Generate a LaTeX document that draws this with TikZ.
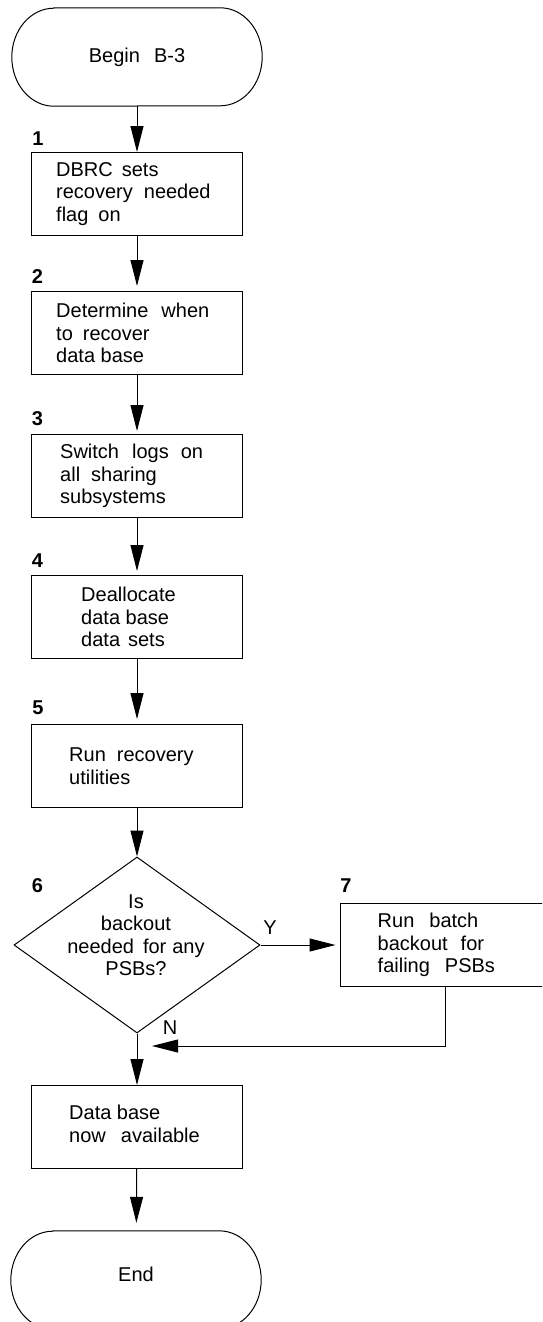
\documentclass[tikz,border=0pt]{standalone}
\usepackage{fontspec}
\setmainfont{Liberation Sans}
\usetikzlibrary{arrows.meta,shapes.geometric}
% wide inter-word gap
\newcommand\wsp[1]{\hspace{#1pt}}
\begin{document}
\begin{tikzpicture}[x=1pt,y=-1pt,
  every node/.style={font=\fontsize{20pt}{22.5pt}\selectfont, inner sep=0pt},
  box/.style={draw, line width=1pt, minimum width=211pt, minimum height=83pt},
  txt/.style={anchor=west, align=left},
  num/.style={font=\fontsize{20pt}{22.5pt}\selectfont\bfseries},
  flow/.style={line width=1pt, -{Triangle[length=26pt,width=13pt]}},
  term/.style={minimum width=250pt, minimum height=98pt}
]
\useasboundingbox (0,0) rectangle (542,1322);
\clip (0,0) rectangle (542,1322);

% terminals
\node[term] (start) at (137,57) {Begin\wsp{14}B-3};
\draw[line width=1pt] ([xshift=42pt]start.north west) -- ([xshift=-42pt]start.north east)
  arc[start angle=90,end angle=-90,x radius=42pt,y radius=49pt]
  -- ([xshift=42pt]start.south west)
  arc[start angle=270,end angle=90,x radius=42pt,y radius=49pt] -- cycle;

\node[term] (stop) at (136,1280) {\raisebox{12pt}{End}};
\draw[line width=1pt] ([xshift=42pt]stop.north west) -- ([xshift=-42pt]stop.north east)
  arc[start angle=90,end angle=-90,x radius=42pt,y radius=49pt]
  -- ([xshift=42pt]stop.south west)
  arc[start angle=270,end angle=90,x radius=42pt,y radius=49pt] -- cycle;

% process boxes
\node[box] (b1) at (137,194) {};
\node[box] (b2) at (137,333) {};
\node[box] (b3) at (137,476) {};
\node[box] (b4) at (137,617) {};
\node[box] (b5) at (137,766) {};
\node[box] (b7) at (445.5,945) {};
\node[box] (b8) at (137,1127) {};

\node[txt] (t1) at ([xshift=25pt]b1.west) {DBRC\wsp{9}sets\\recovery\wsp{11}needed\\flag\wsp{10}on};
\node[txt] (t2) at ([xshift=25pt]b2.west) {Determine\wsp{13}when\\to\wsp{10}recover\\data base};
\node[txt] (t3) at ([xshift=29pt]b3.west) {Switch\wsp{13}logs\wsp{12}on\\all\wsp{11}sharing\\subsystems};
\node[txt] (t4) at ([xshift=50pt]b4.west) {Deallocate\\data base\\data\wsp{8}sets};
\node[txt] (t5) at ([xshift=38pt]b5.west) {Run\wsp{11}recovery\\utilities};
\node[txt] (t7) at ([xshift=38pt]b7.west) {Run\wsp{15}batch\\backout\wsp{13}for\\failing\wsp{15}PSBs};
\node[txt] (t8) at ([xshift=38pt,yshift=3pt]b8.west) {Data base\\now\wsp{15}available};

% decision
\node[diamond, draw, line width=1pt, minimum width=246pt, minimum height=176pt] (d6) at (137,945) {};
\node[align=center] (t6) at (136,935) {Is\\backout\\needed\wsp{9}for\wsp{6}any\\PSBs?};

% step numbers
\node[num] (n1) at (38,139) {1};
\node[num] (n2) at (37.5,277) {2};
\node[num] (n3) at (37.5,419) {3};
\node[num] (n4) at (37.5,561) {4};
\node[num] (n5) at (38,708) {5};
\node[num] (n6) at (37.5,886) {6};
\node[num] (n7) at (346,886) {7};

% branch labels
\node (ly) at (270,928) {Y};
\node (ln) at (170,1028) {N};

% connectors
\coordinate (merge) at (152,1046);
\draw[flow] (start) -- (b1);
\draw[flow, shorten >=5pt] (b1) -- (b2);
\draw[flow, shorten >=3pt] (b2) -- (b3);
\draw[flow, shorten >=4pt] (b3) -- (b4);
\draw[flow, shorten >=5pt] (b4) -- (b5);
\draw[flow] (b5) -- (d6);
\draw[flow, shorten >=4pt] (d6) -- (b7);
\draw[flow] (b7.south) |- (merge);
\draw[flow] (d6) -- (b8);
\draw[flow, shorten >=8pt] (b8) -- (stop);
\end{tikzpicture}
\end{document}
